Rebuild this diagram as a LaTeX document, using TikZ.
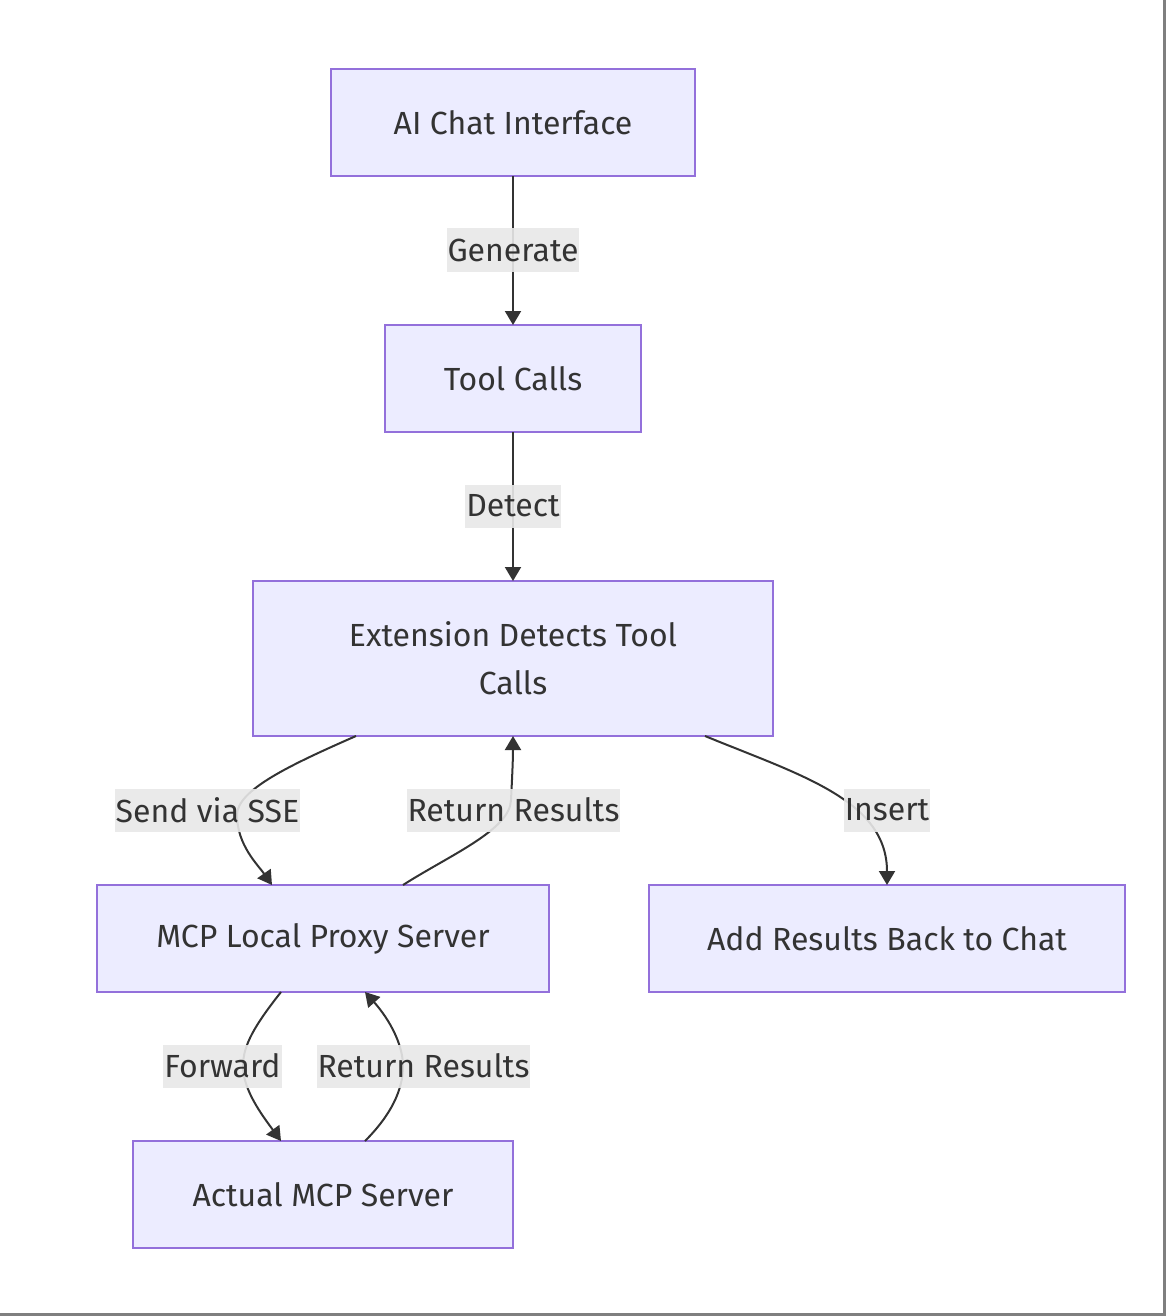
\documentclass[tikz,border=0pt]{standalone}
\usepackage{fontspec}
\setmainfont{Fira Sans}
\usepackage{xcolor}
\usetikzlibrary{arrows.meta,positioning,calc}
\definecolor{boxfill}{HTML}{ECECFF}
\definecolor{boxline}{HTML}{9370DB}
\definecolor{edgecol}{HTML}{333333}
\definecolor{txt}{HTML}{333333}
\definecolor{lblbg}{HTML}{E8E8E8}
\definecolor{framecol}{HTML}{7F7F7F}
\begin{document}
\begin{tikzpicture}[x=0.5pt, y=-0.5pt,
  box/.style={rectangle, draw=boxline, fill=boxfill, line width=1pt, inner sep=0pt, outer sep=0pt,
    minimum height=53.5pt, align=center, text=txt, font=\fontsize{16}{24}\selectfont},
  edge/.style={draw=edgecol, line width=1pt, -{Triangle[length=7pt,width=8pt]}},
  elabel/.style={fill=lblbg, fill opacity=0.9, text opacity=1, text=txt, inner xsep=0.5pt, inner ysep=0pt,
    minimum height=21.5pt, font=\fontsize{16}{18}\selectfont}
]
\useasboundingbox (0,0) rectangle (1166,1316);

% Nodes
\node[box, minimum width=182pt] (chat) at (513,123) {AI Chat Interface};
\node[box, minimum width=128pt] (calls) at (513,378.5) {Tool Calls};
\node[box, minimum width=260pt, minimum height=77.5pt] (ext) at (513,658.5) {Extension Detects Tool\\Calls};
\node[box, minimum width=226pt] (proxy) at (323,938.5) {MCP Local Proxy Server};
\node[box, minimum width=238pt] (back) at (887,938.5) {Add Results Back to Chat};
\node[box, minimum width=190pt] (server) at (323,1194.5) {Actual MCP Server};

% Edges
\draw[edge] (chat) -- (calls);
\draw[edge] (calls) -- (ext);
\draw[edge] ($(ext.south)+(-157,0)$) .. controls (290,765) and (237,790) .. (237,815)
  .. controls (237,845) and (258,865) .. ($(proxy.north)+(-51,0)$);
\draw[edge] ($(proxy.north)+(80,0)$) .. controls (450,855) and (510,830) .. (511,800)
  .. controls (512,780) and (513,760) .. (ext.south);
\draw[edge] ($(ext.south)+(192,0)$) .. controls (800,775) and (887,800) .. (back.north);
\draw[edge] ($(proxy.south)+(-42,0)$) .. controls (255,1025) and (243,1045) .. (243,1066)
  .. controls (243,1090) and (262,1115) .. ($(server.north)+(-42,0)$);
\draw[edge] ($(server.north)+(42,0)$) .. controls (391,1115) and (403,1090) .. (403,1066)
  .. controls (403,1045) and (390,1020) .. ($(proxy.south)+(42,0)$);

% Edge labels
\node[elabel] (lgen) at (513,250) {Generate};
\node[elabel] (ldet) at (513,506) {Detect};
\node[elabel] (lsse) at (207.5,810) {Send via SSE};
\node[elabel] (lret1) at (513.5,810) {Return Results};
\node[elabel] (lins) at (887,810) {Insert};
\node[elabel] (lfwd) at (222.5,1066) {Forward};
\node[elabel] (lret2) at (423.5,1066) {Return Results};

% Frame
\draw[framecol, line width=1.5pt] (1164.5,0) -- (1164.5,1314.5) -- (0,1314.5);
\end{tikzpicture}
\end{document}
